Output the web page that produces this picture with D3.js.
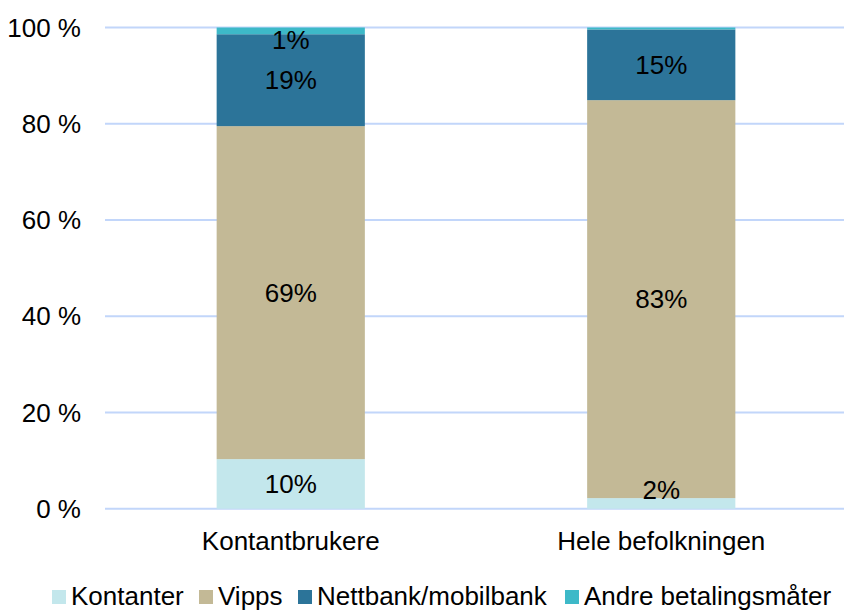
<!DOCTYPE html>
<html>
<head>
<meta charset="utf-8">
<script src="https://cdn.jsdelivr.net/npm/d3@7"></script>
<style>
  body { margin: 0; background: #fff; }
  text { font-family: "Liberation Sans", Arial, sans-serif; fill: #000; }
</style>
</head>
<body>
<svg id="chart" width="844" height="610"></svg>
<script>
// categories and series
const categories = ["Kontantbrukere", "Hele befolkningen"];
const seriesNames = ["Kontanter", "Vipps", "Nettbank/mobilbank", "Andre betalingsmåter"];
const kontanter = [10.3, 2.2];
const vipps = [69.2, 82.7];
const nettbank = [19.1, 14.7];
const andre = [1.4, 0.4];
const yTicks = [0, 20, 40, 60, 80, 100];

const colors = ["#c3e7ec", "#c3b996", "#2c7499", "#3db9c8"];
const fontSize = 26;

const svg = d3.select("#chart");

let x = d3.scaleBand().domain(categories)
    .range([105.5, 846.5])
    .paddingInner(0.6)
    .paddingOuter(0.3);

let y = d3.scaleLinear().domain([0, 100]).range([508.7, 27.5]);

// build table for stacking
let rows = categories.map((c, i) => ({
    cat: c,
    "Kontanter": kontanter[i],
    "Vipps": vipps[i],
    "Nettbank/mobilbank": nettbank[i],
    "Andre betalingsmåter": andre[i]
}));
let stacked = d3.stack().keys(seriesNames)(rows);

// gridlines
svg.append("g").selectAll("line").data(yTicks).join("line")
    .attr("x1", 105)
    .attr("x2", 844)
    .attr("y1", d => y(d))
    .attr("y2", d => y(d))
    .style("stroke", "#c2d6fa")
    .style("stroke-width", 2);

// y labels
svg.append("g").selectAll("text").data(yTicks).join("text")
    .attr("x", 81)
    .attr("y", d => y(d))
    .attr("dy", "0.35em")
    .attr("text-anchor", "end")
    .style("font-size", fontSize + "px")
    .text(d => d + " %");

// bars
let layers = svg.append("g").selectAll("g").data(stacked).join("g")
    .style("fill", (d, i) => colors[i]);

layers.selectAll("rect").data(d => d).join("rect")
    .attr("x", d => x(d.data.cat))
    .attr("width", x.bandwidth())
    .attr("y", d => y(d[1]))
    .attr("height", d => y(d[0]) - y(d[1]));

// value labels, kept inside the bar
let labels = [];
stacked.forEach(s => s.forEach(d => {
    let v = d[1] - d[0];
    if (Math.round(v) >= 1) labels.push({ cat: d.data.cat, v: v, y0: d[0], y1: d[1] });
}));

svg.append("g").selectAll("text").data(labels).join("text")
    .attr("x", d => x(d.cat) + x.bandwidth() / 2)
    .attr("y", d => {
        let mid = (y(d.y0) + y(d.y1)) / 2;
        return Math.max(y(100) + 12.5, Math.min(y(0) - 18.7, mid));
    })
    .attr("dy", "0.35em")
    .attr("text-anchor", "middle")
    .style("font-size", fontSize + "px")
    .text(d => Math.round(d.v) + "%");

// category labels
svg.append("g").selectAll("text").data(categories).join("text")
    .attr("x", d => x(d) + x.bandwidth() / 2)
    .attr("y", 550)
    .attr("text-anchor", "middle")
    .style("font-size", fontSize + "px")
    .text(d => d);

// legend
let legendX = [52, 199, 298, 565];
let legend = svg.append("g").selectAll("g").data(seriesNames).join("g")
    .attr("transform", (d, i) => "translate(" + legendX[i] + ",590)");

legend.append("rect")
    .attr("x", 0)
    .attr("y", 0)
    .attr("width", 14)
    .attr("height", 14)
    .style("fill", (d, i) => colors[i]);

legend.append("text")
    .attr("x", 19)
    .attr("y", 15)
    .style("font-size", fontSize + "px")
    .text(d => d);
</script>
</body>
</html>
